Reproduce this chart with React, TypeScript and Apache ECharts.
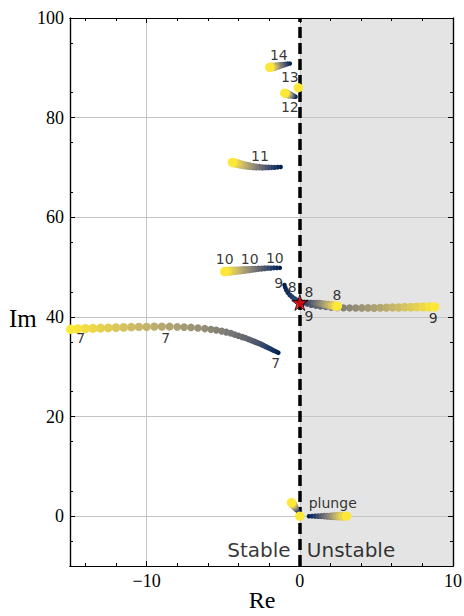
import React, { useEffect, useRef } from "react";
import * as echarts from "echarts";

// Axis ticks
const xMajor = [-10, 0, 10];
const xMinor = [-14, -12, -8, -6, -4, -2, 2, 4, 6, 8];
const yMajor = [0, 20, 40, 60, 80, 100];
const yMinor = [-5, 5, 15, 25, 35, 45, 55, 65, 75, 85, 95];

// Branches, ordered from low parameter (blue) to high parameter (yellow)
const mode7 = [
  [-1.4, 32.8], [-1.5, 32.95], [-1.6, 33.1], [-1.7, 33.25], [-1.8, 33.4], [-1.9, 33.55],
  [-2.0, 33.7], [-2.1, 33.85], [-2.2, 34.0], [-2.32, 34.18], [-2.44, 34.36], [-2.56, 34.54],
  [-2.7, 34.72], [-2.85, 34.9], [-3.0, 35.1], [-3.17, 35.3], [-3.35, 35.5], [-3.55, 35.75],
  [-3.75, 35.95], [-4.0, 36.2], [-4.25, 36.45], [-4.5, 36.7], [-4.8, 36.95], [-5.1, 37.15],
  [-5.45, 37.35], [-5.8, 37.5], [-6.2, 37.65], [-6.65, 37.78], [-7.1, 37.88], [-7.55, 37.95],
  [-8.0, 38.0], [-8.5, 38.05], [-9.0, 38.05], [-9.5, 38.05], [-10.0, 38.0], [-10.5, 38.0],
  [-11.0, 37.95], [-11.5, 37.9], [-12.0, 37.85], [-12.5, 37.8], [-13.0, 37.75], [-13.5, 37.7],
  [-14.0, 37.65], [-14.5, 37.6], [-14.95, 37.5],
];
const mode9 = [
  [-1.0, 46.4], [-0.95, 45.9], [-0.88, 45.4], [-0.78, 44.9], [-0.65, 44.4], [-0.5, 44.0],
  [-0.33, 43.6], [-0.15, 43.3], [0.05, 43.05], [0.25, 42.8], [0.5, 42.6], [0.75, 42.4],
  [1.05, 42.25], [1.35, 42.1], [1.7, 42.0], [2.05, 41.9], [2.45, 41.85], [2.85, 41.8],
  [3.25, 41.8], [3.65, 41.8], [4.05, 41.8], [4.45, 41.8], [4.85, 41.8], [5.25, 41.85],
  [5.65, 41.85], [6.05, 41.9], [6.45, 41.9], [6.85, 41.95], [7.25, 41.95], [7.65, 42.0],
  [8.05, 42.0], [8.45, 42.0], [8.8, 42.0],
];
const mode8 = [
  [-0.1, 43.1], [0.1, 43.0], [0.3, 42.95], [0.5, 42.9], [0.7, 42.85], [0.9, 42.8],
  [1.1, 42.75], [1.3, 42.7], [1.5, 42.6], [1.7, 42.5], [1.9, 42.4], [2.1, 42.3],
  [2.3, 42.2], [2.45, 42.15],
];
const mode10 = [
  [-1.3, 49.85], [-1.5, 49.85], [-1.7, 49.85], [-1.9, 49.8], [-2.1, 49.8], [-2.3, 49.75],
  [-2.5, 49.7], [-2.7, 49.65], [-2.9, 49.6], [-3.1, 49.55], [-3.3, 49.5], [-3.5, 49.45],
  [-3.7, 49.4], [-3.9, 49.35], [-4.1, 49.3], [-4.3, 49.25], [-4.5, 49.2], [-4.7, 49.15],
  [-4.9, 49.1],
];
const mode11 = [
  [-1.25, 70.1], [-1.45, 70.05], [-1.65, 70.0], [-1.85, 70.0], [-2.05, 70.0], [-2.25, 70.0],
  [-2.45, 70.0], [-2.65, 70.05], [-2.85, 70.1], [-3.05, 70.15], [-3.25, 70.25], [-3.45, 70.35],
  [-3.65, 70.45], [-3.85, 70.6], [-4.05, 70.75], [-4.25, 70.9], [-4.4, 71.0],
];
const mode12 = [
  [-0.28, 84.2], [-0.38, 84.3], [-0.48, 84.4], [-0.58, 84.5], [-0.68, 84.6],
  [-0.78, 84.7], [-0.88, 84.8], [-0.98, 84.9],
];
const mode13 = [[-0.1, 86.0]];
const mode14 = [
  [-0.65, 90.85], [-0.8, 90.8], [-0.95, 90.7], [-1.1, 90.6], [-1.25, 90.5],
  [-1.4, 90.4], [-1.55, 90.3], [-1.7, 90.2], [-1.85, 90.15], [-1.96, 90.1],
];
const plungeA = [
  [-0.1, 0.9], [-0.17, 1.2], [-0.24, 1.5], [-0.31, 1.8], [-0.38, 2.1], [-0.46, 2.4], [-0.54, 2.7],
];
const plungeB = [
  [0.6, 0], [0.8, 0], [1.0, 0], [1.2, 0], [1.4, 0], [1.6, 0], [1.8, 0], [2.0, 0],
  [2.2, 0], [2.4, 0], [2.6, 0], [2.8, 0], [3.05, 0],
];
const plungeC = [[0, 0]];

const flutterPoint = [[0, 42.9]];

// Branch annotations
const labelTexts = ["7", "7", "7", "8", "8", "8", "9", "9", "9", "10", "10", "10", "11", "12", "13", "14", "plunge"];
const labelX = [-14.3, -8.76, -1.57, -0.49, 0.59, 2.42, -1.37, 0.59, 8.7, -4.9, -3.27, -1.63, -2.6, -0.65, -0.65, -1.37, 2.15];
const labelY = [35.8, 35.8, 30.8, 46.0, 45.0, 44.4, 46.9, 40.1, 39.7, 51.6, 51.6, 51.9, 72.3, 82.1, 88.2, 92.6, 2.6];

const regionTexts = ["Stable", "Unstable"];
const regionX = [-0.6, 0.46];
const regionY = [-6.8, -6.8];

const cividis = ["#00204c", "#213d6b", "#555b6c", "#7b7a77", "#a59c74", "#d3c064", "#fde838"];

const branches = [mode7, mode9, mode8, mode10, mode11, mode12, mode13, mode14, plungeA, plungeB, plungeC];

const serif = '"Liberation Serif", "Times New Roman", serif';
const sans = '"DejaVu Sans", sans-serif';

export default function App() {
  const ref = useRef<HTMLDivElement>(null);

  useEffect(() => {
    document.body.style.margin = "0";
    if (!ref.current) return;
    const chart = echarts.init(ref.current, null, { renderer: "svg" });

    const gridColor = "#c4c4c4";
    const minus = (v: number) => (v < 0 ? "\u2212" + Math.abs(v) : String(v));

    const mkX = (position: string, ticks: number[], major: boolean, withLabels: boolean) => ({
      type: "value",
      min: -15,
      max: 10,
      position,
      axisLine: { show: true, onZero: false, lineStyle: { color: "#000", width: 1.2 } },
      axisTick: { show: true, inside: true, length: major ? 5 : 3, customValues: ticks, lineStyle: { color: "#000", width: 1 } },
      axisLabel: withLabels
        ? { show: true, customValues: ticks, formatter: minus, fontFamily: serif, fontSize: 18, color: "#000", margin: 6 }
        : { show: false },
      splitLine: withLabels ? { show: true, lineStyle: { color: gridColor, width: 1 } } : { show: false },
    });
    const mkY = (position: string, ticks: number[], major: boolean, withLabels: boolean) => ({
      type: "value",
      min: -10,
      max: 100,
      position,
      axisLine: { show: true, onZero: false, lineStyle: { color: "#000", width: 1.2 } },
      axisTick: { show: true, inside: true, length: major ? 5 : 3, customValues: ticks, lineStyle: { color: "#000", width: 1 } },
      axisLabel: withLabels
        ? { show: true, customValues: ticks, formatter: minus, fontFamily: serif, fontSize: 18, color: "#000", margin: 6 }
        : { show: false },
      splitLine: withLabels ? { show: true, lineStyle: { color: gridColor, width: 1 } } : { show: false },
    });

    const branchSeries = branches.map((pts, k) => ({
      type: "scatter",
      name: "branch" + k,
      z: 3,
      symbol: "circle",
      data: pts.map((p, i) => [p[0], p[1], pts.length > 1 ? i / (pts.length - 1) : 1]),
      itemStyle: { opacity: 1 },
      silent: true,
    }));

    const starPath =
      "path://M50,0 L61.8,36.2 L100,36.2 L69.1,58.8 L80.9,95.1 L50,72.7 L19.1,95.1 L30.9,58.8 L0,36.2 L38.2,36.2 Z";

    const option: any = {
      animation: false,
      grid: { left: 70, right: 11, top: 18, bottom: 50, containLabel: false, outerBoundsMode: "none" },
      xAxis: [
        mkX("bottom", xMajor, true, true),
        mkX("bottom", xMinor, false, false),
        mkX("top", xMajor, true, false),
        mkX("top", xMinor, false, false),
      ],
      yAxis: [
        mkY("left", yMajor, true, true),
        mkY("left", yMinor, false, false),
        mkY("right", yMajor, true, false),
        mkY("right", yMinor, false, false),
      ],
      visualMap: {
        type: "continuous",
        show: false,
        dimension: 2,
        min: 0,
        max: 1,
        seriesIndex: branchSeries.map((_, i) => i + 1),
        inRange: { color: cividis, symbolSize: [4.5, 9.5] },
      },
      graphic: [
        {
          type: "text",
          left: 9,
          top: 306,
          style: { text: "Im", font: `25px ${serif}`, fill: "#000" },
        },
        {
          type: "text",
          x: 262,
          y: 588,
          style: { text: "Re", font: `24px ${serif}`, fill: "#000", align: "center", verticalAlign: "top" },
        },
      ],
      series: [
        {
          type: "scatter",
          name: "regions",
          data: [],
          silent: true,
          markArea: {
            z: -1,
            silent: true,
            itemStyle: { color: "#e4e4e4" },
            label: { show: false },
            data: [[{ xAxis: 0, yAxis: -10 }, { xAxis: 10, yAxis: 100 }]],
          },
          markLine: {
            z: 1,
            silent: true,
            symbol: ["none", "none"],
            label: { show: false },
            lineStyle: { color: "#000", width: 3.5, type: [11, 5] },
            data: [{ xAxis: 0 }],
          },
        },
        ...branchSeries,
        {
          type: "scatter",
          name: "flutter",
          z: 4,
          symbol: starPath,
          symbolSize: 16,
          itemStyle: { color: "#ff0000", borderColor: "#000", borderWidth: 1 },
          data: flutterPoint,
          silent: true,
        },
        {
          type: "scatter",
          name: "labels",
          z: 5,
          symbolSize: 0,
          silent: true,
          data: labelTexts.map((t, i) => ({ value: [labelX[i], labelY[i]], name: t })),
          label: {
            show: true,
            position: "inside",
            formatter: (p: any) => p.name,
            fontFamily: sans,
            fontSize: 14,
            color: "#000",
          },
        },
        {
          type: "scatter",
          name: "regionLabels",
          z: 5,
          symbolSize: 0,
          silent: true,
          data: regionTexts.map((t, i) => ({
            value: [regionX[i], regionY[i]],
            name: t,
            label: { position: i === 0 ? "left" : "right", distance: 0 },
          })),
          label: {
            show: true,
            formatter: (p: any) => p.name,
            fontFamily: sans,
            fontSize: 20,
            color: "#000",
          },
        },
      ],
    };

    chart.setOption(option);
    return () => chart.dispose();
  }, []);

  return <div ref={ref} style={{ width: 464, height: 616 }} />;
}
